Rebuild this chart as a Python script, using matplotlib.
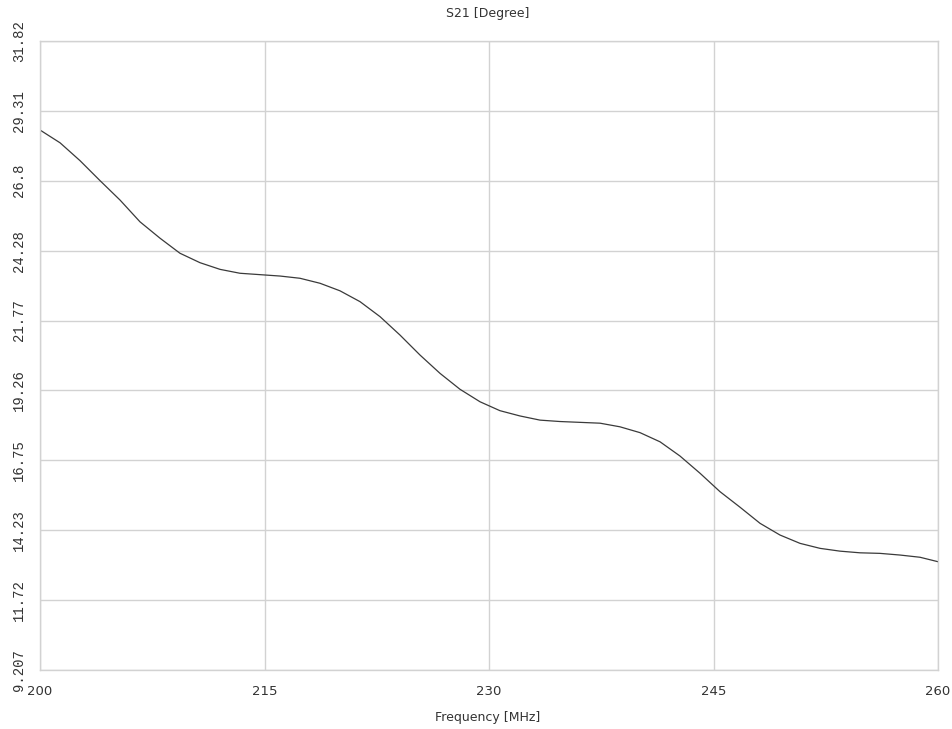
from matplotlib import pyplot as plt

# frequency (MHz) and S21 phase (degree)
freq = [200.00, 201.34, 202.67, 204.01, 205.35, 206.68, 208.02, 209.35, 210.69,
        212.03, 213.36, 214.70, 216.04, 217.37, 218.71, 220.04, 221.38, 222.72,
        224.05, 225.39, 226.73, 228.06, 229.40, 230.73, 232.07, 233.41, 234.74,
        236.08, 237.42, 238.75, 240.09, 241.43, 242.76, 244.10, 245.43, 246.77,
        248.11, 249.44, 250.78, 252.12, 253.45, 254.79, 256.12, 257.46, 258.80,
        260.00]
s21 = [28.62, 28.16, 27.52, 26.80, 26.10, 25.32, 24.73, 24.19, 23.85,
       23.61, 23.47, 23.42, 23.37, 23.29, 23.11, 22.84, 22.45, 21.91,
       21.25, 20.53, 19.87, 19.30, 18.85, 18.53, 18.34, 18.19, 18.14,
       18.11, 18.08, 17.95, 17.74, 17.41, 16.90, 16.28, 15.62, 15.06,
       14.48, 14.06, 13.76, 13.58, 13.48, 13.42, 13.40, 13.34, 13.26,
       13.10]

xticks = [200, 215, 230, 245, 260]
ytick_labels = ["9.207", "11.72", "14.23", "16.75", "19.26",
                "21.77", "24.28", "26.8", "29.31", "31.82"]
yticks = [float(s) for s in ytick_labels]

fig = plt.figure(figsize=(9.53, 7.29), dpi=100)
ax = fig.add_axes([40 / 953, 1 - 670 / 729, 898 / 953, 629 / 729])

ax.plot(freq, s21, color="#3a3a3a", lw=0.9)

ax.set_xlim(200, 260)
ax.set_ylim(yticks[0], yticks[-1])
ax.set_xticks(xticks)
ax.set_xticklabels([str(v) for v in xticks], fontsize=9.5, color="#333333")
ax.set_yticks(yticks)
ax.set_yticklabels(ytick_labels, family="Liberation Mono", fontsize=10,
                   rotation=90, va="center", color="#333333")
ax.tick_params(length=0, pad=10)
ax.tick_params(axis="x", pad=11)

ax.grid(True, color="#d2d2d2", lw=1)
for s in ax.spines.values():
    s.set_color("#d2d2d2")
    s.set_linewidth(1)

fig.text(488 / 953, 1 - 13 / 729, "S21 [Degree]", ha="center", va="center",
         fontsize=9, color="#333333")
fig.text(488 / 953, 1 - 717 / 729, "Frequency [MHz]", ha="center", va="center",
         fontsize=9, color="#333333")

fig.savefig("out.png", dpi=100)
